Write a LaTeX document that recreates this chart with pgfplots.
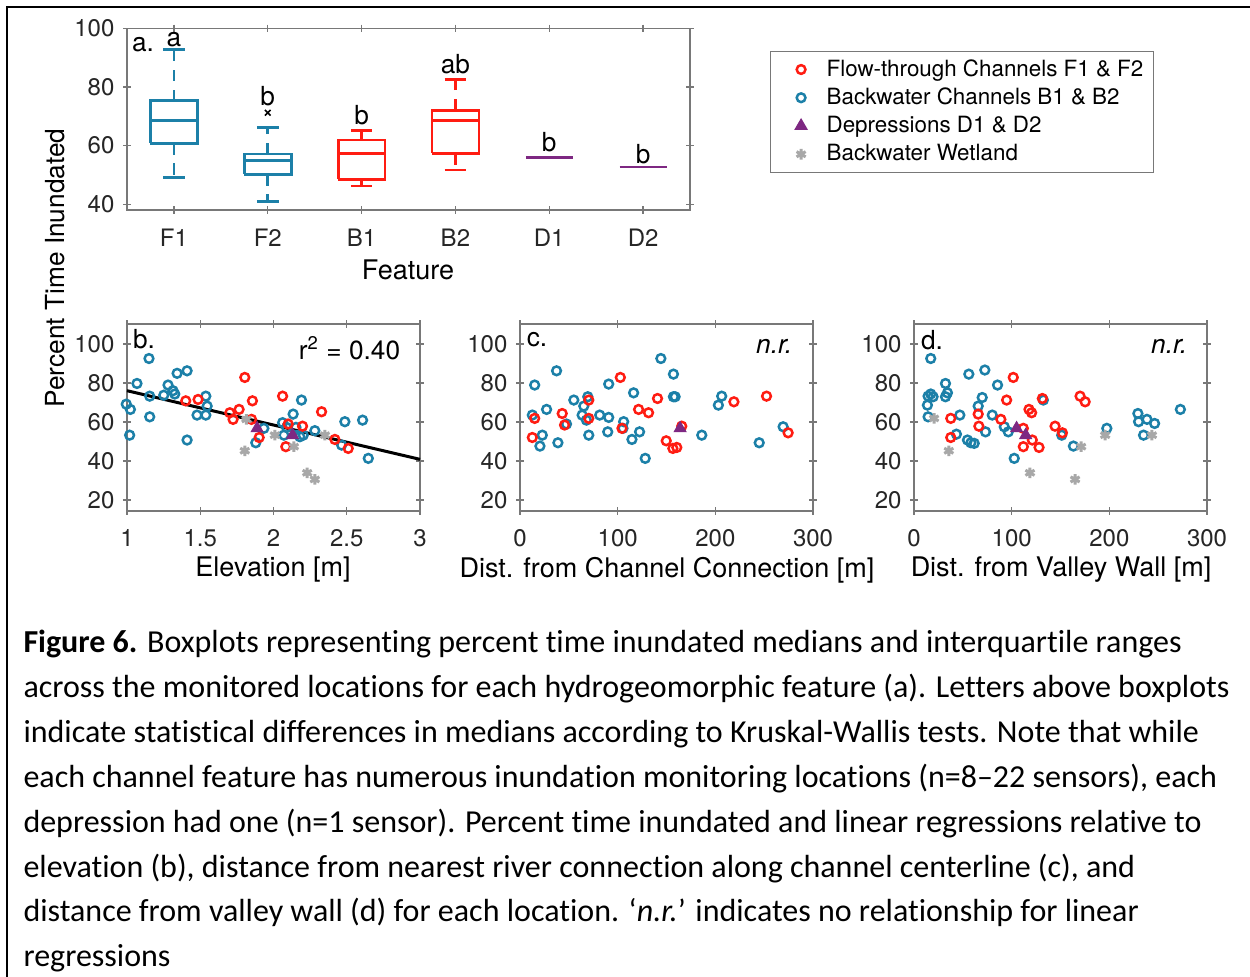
\documentclass[border=0pt]{standalone}
\usepackage{pgfplots}
\pgfplotsset{compat=1.18}
\usepackage{fontspec}
\setmainfont{TeX Gyre Heros}
\newfontfamily\capfont[Ligatures=NoCommon]{Carlito}
\definecolor{blueC}{RGB}{28,128,168}
\definecolor{redC}{RGB}{255,28,18}
\definecolor{purpleC}{RGB}{126,40,130}
\definecolor{grayC}{RGB}{168,168,168}
\definecolor{axisC}{RGB}{120,120,120}
\newcommand{\tickfont}{\fontsize{9.6}{11}\selectfont}
\newcommand{\labfont}{\fontsize{10.5}{12}\selectfont}
\newcommand{\xlabfont}{\fontsize{10.8}{12}\selectfont}
\newcommand{\legfont}{\fontsize{8.95}{10}\selectfont}
\newcommand{\capsize}{\fontsize{12.8}{18}\selectfont}

\pgfplotsset{
  base/.style={scale only axis, anchor=north west,
    axis line style={draw=axisC, line width=0.5pt},
    every tick/.style={draw=axisC, line width=0.5pt},
    major tick length=3pt, tick align=center,
    tick label style={font=\tickfont, text=black!85},
    xticklabel style={yshift=-2.4pt},
    /pgf/number format/assume math mode=true,
    clip=false},
  sc/.style={base, width=117.2pt, height=74.8pt, ymin=14.4, ymax=110.3,
    ytick={20,40,60,80,100}},
  fth/.style={only marks, mark=o, mark size=1.75pt, color=redC, mark options={line width=1pt}},
  bw/.style={only marks, mark=o, mark size=1.75pt, color=blueC, mark options={line width=1pt}},
  dep/.style={only marks, mark=triangle*, mark size=2.7pt, color=purpleC},
  wet/.style={only marks, mark=asterisk, mark size=2.1pt, color=grayC, mark options={line width=1.2pt}},
  bx/.style={line width=1.1pt, no markers, forget plot},
  wh/.style={line width=1.1pt, no markers, dash pattern=on 4.5pt off 3.5pt, forget plot},
  legmark/.style={legend image code/.code={%
    \path (0cm,0cm) (0.63cm,0cm);
    \draw[##1, only marks] plot coordinates {(0.35cm,0cm)};}},
}

% ---------- data ----------
\pgfplotstableread{
x y
0.995 69.2
1.023 66.5
1.018 53.3
1.068 79.8
1.150 92.6
1.155 73.3
1.155 62.7
1.251 73.8
1.280 79.0
1.314 76.1
1.326 74.4
1.342 85.0
1.410 86.3
1.410 50.8
1.478 63.6
1.538 73.3
1.547 68.2
1.538 63.6
1.879 49.4
1.934 56.8
2.062 59.7
2.071 53.3
2.089 57.3
2.134 64.1
2.191 71.3
2.153 57.3
2.180 52.5
2.203 53.3
2.282 55.6
2.465 48.2
2.487 60.2
2.608 61.0
2.647 41.4
}\bBlue
\pgfplotstableread{
x y
1.401 70.9
1.485 71.6
1.702 64.8
1.724 61.4
1.765 66.5
1.804 82.9
1.850 61.4
1.856 70.9
1.902 52.1
2.062 73.3
2.084 47.4
2.100 59.0
2.198 57.9
2.328 65.3
2.419 51.1
2.510 46.5
}\bRed
\pgfplotstableread{
x y
1.804 45.3
1.815 61.4
2.009 53.3
2.139 47.4
2.230 34.0
2.282 30.6
2.351 53.3
}\bGray
\pgfplotstableread{
x y
15.0 79.0
12.6 63.6
22.8 53.3
20.4 47.7
27.2 66.5
37.4 86.3
38.8 49.4
47.6 59.0
55.1 71.3
65.3 68.2
69.4 73.0
63.6 63.6
68.0 61.0
70.4 53.3
81.6 63.6
90.8 79.5
90.8 62.4
89.8 55.0
106.1 60.2
105.4 56.8
114.6 51.1
116.3 75.0
122.4 55.0
128.2 41.4
144.2 92.6
157.1 84.6
157.1 73.0
158.8 73.0
186.1 53.3
203.1 68.7
206.5 73.3
244.9 49.4
269.4 57.6
}\cBlue
\pgfplotstableread{
x y
12.6 52.1
15.0 61.9
43.2 64.4
45.6 58.5
70.4 71.3
70.4 61.9
102.7 82.9
104.4 56.8
121.4 66.5
131.6 64.8
140.8 72.1
149.7 50.4
156.5 46.5
160.5 47.0
165.6 57.9
219.0 70.4
252.4 73.3
274.5 54.5
}\cRed
\pgfplotstableread{
x y
17.1 92.6
14.4 73.3
17.1 74.4
13.7 68.7
14.4 62.7
19.5 73.0
32.2 79.8
32.2 73.0
34.2 75.0
46.9 63.6
43.4 53.8
56.1 84.6
72.5 86.7
69.8 72.6
65.7 68.2
73.2 55.0
54.7 50.8
58.2 49.4
61.6 49.1
80.1 63.6
85.5 79.0
92.4 57.6
96.5 55.0
102.6 41.4
132.4 71.3
151.2 53.3
163.2 47.7
197.4 56.8
229.2 64.4
229.9 60.2
235.0 53.3
238.5 61.4
246.3 59.3
272.7 66.5
}\dBlue
\pgfplotstableread{
x y
37.6 61.9
37.6 52.1
65.7 64.1
66.4 57.9
88.9 61.4
94.8 71.3
101.6 82.9
111.9 56.8
111.9 47.4
117.7 66.5
120.4 64.8
121.1 50.8
128.0 47.0
131.4 72.1
144.4 57.9
151.9 54.5
170.0 73.3
175.2 70.4
}\dRed
\pgfplotstableread{
x y
20.5 61.9
35.6 45.3
118.7 34.0
164.9 30.6
171.1 47.4
195.7 53.3
243.6 53.3
}\dGray

\begin{document}
\begin{tikzpicture}
\begin{scope}[x=0.4pt,y=-0.4pt]
\path[use as bounding box] (0,0) rectangle (1250,977);
\draw[line width=0.8pt] (7,977) -- (7,7) -- (1250,7);
\end{scope}

% ---------- panel a ----------
\begin{axis}[base, at={(50.8pt,-11.4pt)}, width=225.2pt, height=72.6pt,
  xmin=0.5, xmax=6.5, ymin=38, ymax=100,
  xtick={1,2,3,4,5,6}, xticklabels={F1,F2,B1,B2,D1,D2},
  ytick={40,60,80,100},
  legend style={at={(axis description cs:1.142,0.876)}, anchor=north west,
    draw=axisC, line width=0.5pt, font=\legfont, legend cell align=left,
    row sep=0pt, inner xsep=2pt, inner ysep=1.5pt,
    nodes={text height=7.0pt, text depth=1.7pt, inner ysep=1.3pt}},
  ]
% legend
\addlegendimage{fth, legmark}
\addlegendentry{Flow-through Channels F1 \& F2}
\addlegendimage{bw, legmark}
\addlegendentry{Backwater Channels B1 \& B2}
\addlegendimage{dep, legmark}
\addlegendentry{Depressions D1 \& D2}
\addlegendimage{wet, legmark}
\addlegendentry{Backwater Wetland}
% F1
\addplot[bx, blueC] coordinates {(0.75,60.8) (1.25,60.8) (1.25,75.3) (0.75,75.3) (0.75,60.8)};
\addplot[bx, blueC] coordinates {(0.75,68.6) (1.25,68.6)};
\addplot[wh, blueC] coordinates {(1,75.3) (1,92.8)};
\addplot[wh, blueC] coordinates {(1,60.8) (1,49.0)};
\addplot[bx, blueC] coordinates {(0.885,92.8) (1.115,92.8)};
\addplot[bx, blueC] coordinates {(0.885,49.0) (1.115,49.0)};
% F2
\addplot[bx, blueC] coordinates {(1.75,50.2) (2.25,50.2) (2.25,57.1) (1.75,57.1) (1.75,50.2)};
\addplot[bx, blueC] coordinates {(1.75,54.8) (2.25,54.8)};
\addplot[wh, blueC] coordinates {(2,57.1) (2,66.3)};
\addplot[wh, blueC] coordinates {(2,50.2) (2,40.9)};
\addplot[bx, blueC] coordinates {(1.885,66.3) (2.115,66.3)};
\addplot[bx, blueC] coordinates {(1.885,40.9) (2.115,40.9)};
\addplot[only marks, mark=x, mark size=1.6pt, black, mark options={line width=0.6pt}, forget plot] coordinates {(2,71.2)};
% B1
\addplot[bx, redC] coordinates {(2.75,48.5) (3.25,48.5) (3.25,61.9) (2.75,61.9) (2.75,48.5)};
\addplot[bx, redC] coordinates {(2.75,57.3) (3.25,57.3)};
\addplot[wh, redC] coordinates {(3,61.9) (3,65.2)};
\addplot[wh, redC] coordinates {(3,48.5) (3,46.2)};
\addplot[bx, redC] coordinates {(2.885,65.2) (3.115,65.2)};
\addplot[bx, redC] coordinates {(2.885,46.2) (3.115,46.2)};
% B2
\addplot[bx, redC] coordinates {(3.75,57.3) (4.25,57.3) (4.25,72.1) (3.75,72.1) (3.75,57.3)};
\addplot[bx, redC] coordinates {(3.75,68.6) (4.25,68.6)};
\addplot[wh, redC] coordinates {(4,72.1) (4,82.7)};
\addplot[wh, redC] coordinates {(4,57.3) (4,51.7)};
\addplot[bx, redC] coordinates {(3.885,82.7) (4.115,82.7)};
\addplot[bx, redC] coordinates {(3.885,51.7) (4.115,51.7)};
% D1, D2
\addplot[bx, purpleC] coordinates {(4.75,56.0) (5.25,56.0)};
\addplot[bx, purpleC] coordinates {(5.75,52.7) (6.25,52.7)};
% letters
\node[font=\labfont] at (axis cs:1,96.2) {a};
\node[font=\labfont] at (axis cs:2,76.8) {b};
\node[font=\labfont] at (axis cs:3,70.3) {b};
\node[font=\labfont] at (axis cs:4,87.7) {ab};
\node[font=\labfont] at (axis cs:5,61.1) {b};
\node[font=\labfont] at (axis cs:6,57.0) {b};
\node[font=\labfont] at (axis cs:0.67,94.5) {a.};
\end{axis}

% ---------- panel b ----------
\begin{axis}[sc, at={(50.8pt,-129.6pt)}, xmin=1, xmax=3, xtick={1,1.5,2,2.5,3}]
\addplot[black, line width=1.2pt, no markers] coordinates {(1,76.1) (3,40.9)};
\addplot[bw] table {\bBlue};
\addplot[fth] table {\bRed};
\addplot[wet] table {\bGray};
\addplot[dep] coordinates {(1.888,56.8) (2.130,53.3)};
\end{axis}

% ---------- panel c ----------
\begin{axis}[sc, at={(208pt,-129.6pt)}, xmin=0, xmax=300, xtick={0,100,200,300}]
\addplot[bw] table {\cBlue};
\addplot[fth] table {\cRed};
\addplot[dep] coordinates {(163.9,56.8)};
\end{axis}

% ---------- panel d ----------
\begin{axis}[sc, at={(365.6pt,-129.6pt)}, xmin=0, xmax=300, xtick={0,100,200,300}]
\addplot[bw] table {\dBlue};
\addplot[fth] table {\dRed};
\addplot[wet] table {\dGray};
\addplot[dep] coordinates {(105.0,56.8) (114.3,53.3)};
\end{axis}

\begin{scope}[x=0.4pt,y=-0.4pt]
\node[font=\xlabfont] at (408,270) {Feature};
\node[font=\labfont, rotate=90] at (55,268) {Percent Time Inundated};
\node[font=\xlabfont] at (273,570) {Elevation [m]};
\node[font=\xlabfont] at (667,570) {Dist. from Channel Connection [m]};
\node[font=\xlabfont] at (1061,570) {Dist. from Valley Wall [m]};
\node[font=\labfont] at (144,339) {b.};
\node[font=\labfont] at (537,340) {c.};
\node[font=\labfont] at (932,340) {d.};
\node[font=\labfont, anchor=east] at (409,348) {r\textsuperscript{2} = 0.40};
\node[font=\labfont\itshape, anchor=east] at (801,346) {n.r.};
\node[font=\labfont\itshape, anchor=east] at (1196,346) {n.r.};
% caption
\begin{scope}[every node/.style={anchor=base west, inner sep=0pt, font=\capfont\capsize}]
\node at (23,652) {\textbf{Figure 6.} Boxplots representing percent time inundated medians and interquartile ranges};
\node at (23,697) {across the monitored locations for each hydrogeomorphic feature (a). Letters above boxplots};
\node at (23,742) {indicate statistical differences in medians according to Kruskal-Wallis tests. Note that while};
\node at (23,787) {each channel feature has numerous inundation monitoring locations (n=8–22 sensors), each};
\node at (23,832) {depression had one (n=1 sensor). Percent time inundated and linear regressions relative to};
\node at (23,877) {elevation (b), distance from nearest river connection along channel centerline (c), and};
\node at (23,921) {distance from valley wall (d) for each location. ‘\textit{n.r.}’ indicates no relationship for linear};
\node at (23,966) {regressions};
\end{scope}
\end{scope}
\end{tikzpicture}
\end{document}
